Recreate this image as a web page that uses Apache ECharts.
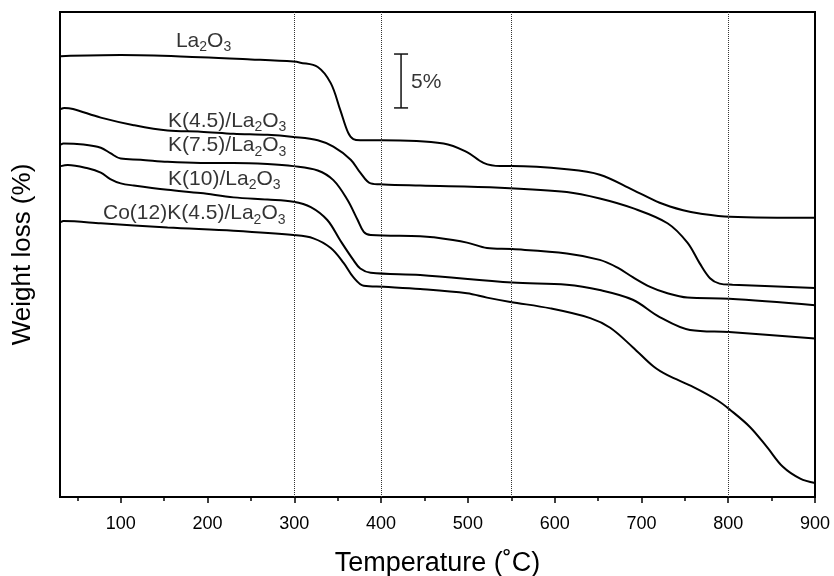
<!DOCTYPE html>
<html>
<head>
<meta charset="utf-8">
<script src="https://cdn.jsdelivr.net/npm/echarts@6/dist/echarts.min.js"></script>
<style>
html, body { margin: 0; padding: 0; background: #fff; }
#chart { width: 834px; height: 576px; }
</style>
</head>
<body>
<div id="chart"></div>
<script>
// TG curves, temperature (°C) and relative weight (%, curves offset as in the figure)
const la2o3T = [31, 100, 192, 250, 299, 307, 327, 342, 353, 362, 368, 376, 401, 472, 499, 518, 537, 551, 614, 652, 690, 721, 748, 767, 802, 900];
const la2o3W = [40.9, 41.0, 40.8, 40.6, 40.4, 40.3, 39.9, 38.4, 35.9, 33.8, 33.2, 33.1, 33.1, 32.8, 32.0, 31.0, 30.7, 30.7, 30.4, 29.9, 28.5, 27.3, 26.6, 26.3, 26.0, 25.9];

const k45T = [31, 35, 45, 77, 115, 154, 192, 230, 269, 299, 327, 345, 365, 376, 388, 403, 445, 537, 614, 652, 690, 730, 753, 767, 779, 790, 805, 900];
const k45W = [36.0, 36.1, 36.0, 35.2, 34.5, 34.0, 33.9, 33.7, 33.6, 33.4, 33.1, 32.5, 31.3, 30.1, 29.1, 29.0, 28.9, 28.7, 28.3, 27.7, 26.8, 25.4, 23.6, 21.7, 20.3, 19.8, 19.7, 19.4];

const k75T = [31, 34, 57, 77, 88, 100, 123, 154, 192, 230, 269, 299, 327, 345, 361, 373, 380, 388, 445, 460, 499, 522, 551, 614, 652, 672, 690, 710, 730, 753, 801, 900];
const k75W = [32.7, 32.8, 32.7, 32.4, 31.9, 31.4, 31.3, 31.1, 31.0, 31.0, 30.9, 30.7, 30.3, 29.4, 27.6, 25.7, 24.6, 24.3, 24.2, 24.1, 23.6, 23.1, 23.0, 22.6, 22.0, 21.3, 20.4, 19.5, 18.9, 18.5, 18.4, 17.8];

const k10T = [31, 39, 62, 77, 88, 100, 115, 154, 192, 230, 269, 299, 319, 338, 353, 368, 376, 388, 445, 551, 614, 652, 690, 721, 756, 801, 900];
const k10W = [30.7, 30.8, 30.5, 30.1, 29.5, 29.1, 28.9, 28.5, 28.2, 27.8, 27.6, 27.4, 26.9, 25.7, 23.8, 22.0, 21.2, 20.8, 20.6, 19.9, 19.7, 19.2, 18.3, 16.7, 15.5, 15.3, 14.7];

const cokT = [31, 34, 77, 154, 230, 299, 322, 342, 357, 368, 380, 403, 445, 499, 522, 549, 595, 641, 664, 690, 714, 730, 760, 787, 802, 825, 845, 863, 883, 900];
const cokW = [25.5, 25.6, 25.4, 25.0, 24.7, 24.3, 24.0, 23.1, 21.7, 20.4, 19.6, 19.5, 19.3, 18.9, 18.5, 18.1, 17.5, 16.6, 15.7, 13.9, 12.1, 11.3, 10.2, 9.0, 8.1, 6.5, 4.6, 2.8, 1.7, 1.3];

const majorTicks = [100, 200, 300, 400, 500, 600, 700, 800, 900];
const minorTicks = [50, 150, 250, 350, 450, 550, 650, 750, 850];
const refLines = [300, 400, 550, 800];

// 5 % scale bar
const scaleBarT = 423;
const scaleBarW = [41.1, 36.1];

// curve labels: [temperature, weight, text]
const curveLabels = [
	[163, 42.3, "La{s|2}O{s|3}"],
	[154, 34.9, "K(4.5)/La{s|2}O{s|3}"],
	[154, 32.6, "K(7.5)/La{s|2}O{s|3}"],
	[154, 29.5, "K(10)/La{s|2}O{s|3}"],
	[79, 26.3, "Co(12)K(4.5)/La{s|2}O{s|3}"],
	[434, 38.5, "5%"],
];

const font = "Liberation Sans, Arial, Helvetica, sans-serif";

function zip(xs, ys) {
	return xs.map((x, i) => [x, ys[i]]);
}

function curve(name, xs, ys) {
	return {
		name: name,
		type: "line",
		data: zip(xs, ys),
		smooth: 0.35,
		showSymbol: false,
		symbol: "none",
		lineStyle: { color: "#000", width: 2 },
		z: 3,
	};
}

const chart = echarts.init(document.getElementById("chart"), null, { renderer: "canvas" });

const series = [
	curve("La2O3", la2o3T, la2o3W),
	curve("K(4.5)/La2O3", k45T, k45W),
	curve("K(7.5)/La2O3", k75T, k75W),
	curve("K(10)/La2O3", k10T, k10W),
	curve("Co(12)K(4.5)/La2O3", cokT, cokW),
	{
		name: "scale",
		type: "line",
		data: scaleBarW.map((w) => [scaleBarT, w]),
		symbol: "rect",
		symbolSize: [14, 1.5],
		itemStyle: { color: "#111" },
		lineStyle: { color: "#111", width: 1.5 },
	},
	{
		name: "labels",
		type: "scatter",
		symbolSize: 1,
		itemStyle: { color: "rgba(0,0,0,0)" },
		data: curveLabels.map((l) => ({ name: l[2], value: [l[0], l[1]] })),
		label: {
			show: true,
			position: "right",
			distance: 0,
			color: "#000",
			fontSize: 21,
			fontFamily: font,
			formatter: (p) => p.name,
			rich: {
				s: {
					fontSize: 14,
					fontFamily: font,
					color: "#000",
					lineHeight: 27,
					verticalAlign: "bottom",
				},
			},
		},
	},
];

// dotted reference lines
series[0].markLine = {
	silent: true,
	symbol: ["none", "none"],
	label: { show: false },
	lineStyle: { type: "dotted", color: "#333", width: 1 },
	data: refLines.map((v) => ({ xAxis: v })),
};

chart.setOption({
	animation: false,
	backgroundColor: "#fff",
	grid: {
		left: 60,
		right: 19,
		top: 12,
		bottom: 79,
		outerBoundsMode: "none",
		show: true,
		borderColor: "#000",
		borderWidth: 2,
		backgroundColor: "transparent",
	},
	xAxis: [
		{
			type: "value",
			min: 30,
			max: 900,
			position: "bottom",
			axisLine: { show: true, lineStyle: { color: "#000", width: 2 } },
			axisTick: {
				show: true,
				customValues: majorTicks,
				length: 6,
				lineStyle: { color: "#000", width: 1.5 },
			},
			axisLabel: {
				customValues: majorTicks,
				color: "#000",
				fontSize: 18,
				fontFamily: font,
				margin: 18,
			},
			splitLine: { show: false },
			name: "Temperature (˚C)",
			nameLocation: "middle",
			nameGap: 53,
			nameTextStyle: { color: "#000", fontSize: 27, fontFamily: font },
		},
		{
			type: "value",
			min: 30,
			max: 900,
			position: "bottom",
			axisLine: { show: false },
			axisTick: {
				show: true,
				customValues: minorTicks,
				length: 4,
				lineStyle: { color: "#000", width: 1.5 },
			},
			axisLabel: { show: false },
			splitLine: { show: false },
		},
	],
	yAxis: {
		type: "value",
		min: 0,
		max: 45,
		axisLine: { show: false },
		axisTick: { show: false },
		axisLabel: { show: false },
		splitLine: { show: false },
		name: "Weight loss (%)",
		nameLocation: "middle",
		nameGap: 24,
		nameTextStyle: { color: "#000", fontSize: 26, fontFamily: font },
	},
	series: series,
});
</script>
</body>
</html>
